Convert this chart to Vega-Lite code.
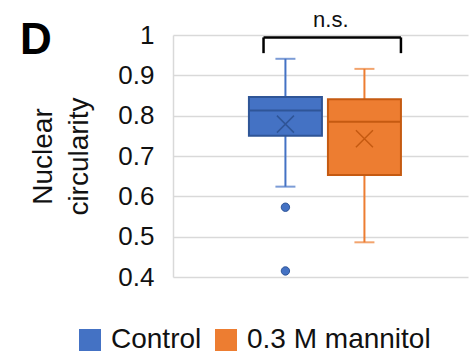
{
  "$schema": "https://vega.github.io/schema/vega-lite/v6.json",
  "width": 295,
  "height": 242,
  "autosize": "none",
  "padding": {"left": 173, "top": 35, "right": 1, "bottom": 79},
  "background": "white",
  "title": {"text": "D", "anchor": "start", "frame": "group", "orient": "top", "fontSize": 44, "fontWeight": "bold", "font": "Liberation Sans", "color": "black", "baseline": "top", "offset": 0, "dx": -153, "dy": 54},
  "datasets": {
    "stats": [
      {"group": "Control", "min": 0.624, "q1": 0.750, "median": 0.813, "q3": 0.846, "max": 0.941, "mean": 0.779},
      {"group": "0.3 M mannitol", "min": 0.486, "q1": 0.653, "median": 0.785, "q3": 0.841, "max": 0.916, "mean": 0.743}
    ],
    "outliers": [
      {"group": "Control", "value": 0.573},
      {"group": "Control", "value": 0.415}
    ],
    "bracket": [
      {"from": "Control", "to": "0.3 M mannitol", "top": 0.994, "bottom": 0.955, "labelY": 1.02, "label": "n.s."}
    ]
  },
  "config": {
    "view": {"stroke": null},
    "font": "Liberation Sans"
  },
  "encoding": {
    "x": {"field": "group", "type": "nominal", "axis": null,
      "scale": {"type": "band", "domain": ["Control", "0.3 M mannitol"], "paddingInner": 0.076, "paddingOuter": 0.905, "align": 0.531}}
  },
  "layer": [
    {
      "data": {"name": "stats"},
      "mark": {"type": "rule", "strokeWidth": 2},
      "encoding": {
        "y": {"field": "min", "type": "quantitative",
          "scale": {"domain": [0.4, 1], "nice": false, "zero": false},
          "axis": {"values": [0.4, 0.5, 0.6, 0.7, 0.8, 0.9, 1], "format": "~g", "ticks": false,
            "grid": true, "gridColor": "#D9D9D9", "gridWidth": 1.5,
            "domainColor": "#D9D9D9", "domainWidth": 1.5,
            "labelFontSize": 26, "labelFont": "Liberation Sans", "labelColor": "#111111", "labelPadding": 19, "labelDy": 3,
            "title": ["Nuclear", "circularity"], "titleFontSize": 28, "titleFont": "Liberation Sans", "titleFontWeight": "normal",
            "titleColor": "#111111", "titleLineHeight": 36, "titlePadding": 24}},
        "y2": {"field": "max"},
        "color": {"field": "group", "type": "nominal",
          "scale": {"domain": ["Control", "0.3 M mannitol"], "range": ["#4472C4", "#ED7D31"]},
          "legend": {"orient": "none", "legendX": -97, "legendY": 291, "direction": "horizontal",
            "symbolType": "square", "symbolSize": 400, "symbolStrokeWidth": 2, "symbolOpacity": 1,
            "labelFontSize": 28, "labelFont": "Liberation Sans", "labelColor": "#111111",
            "labelOffset": 7, "columnPadding": 10, "title": null, "labelLimit": 400,
            "encode": {"symbols": {"update": {
              "fill": {"signal": "datum.value === 'Control' ? '#4472C4' : '#ED7D31'"},
              "stroke": {"signal": "datum.value === 'Control' ? '#2F5597' : '#C55A11'"},
              "strokeWidth": {"value": 2}, "opacity": {"value": 1}}}}}}
      }
    },
    {
      "data": {"name": "stats"},
      "mark": {"type": "tick", "size": 20, "thickness": 2},
      "encoding": {
        "y": {"field": "min", "type": "quantitative"},
        "color": {"field": "group", "type": "nominal"}
      }
    },
    {
      "data": {"name": "stats"},
      "mark": {"type": "tick", "size": 20, "thickness": 2},
      "encoding": {
        "y": {"field": "max", "type": "quantitative"},
        "color": {"field": "group", "type": "nominal"}
      }
    },
    {
      "data": {"name": "stats"},
      "mark": {"type": "bar", "strokeWidth": 2},
      "encoding": {
        "y": {"field": "q1", "type": "quantitative"},
        "y2": {"field": "q3"},
        "color": {"field": "group", "type": "nominal"},
        "stroke": {"field": "group", "type": "nominal", "legend": null,
          "scale": {"domain": ["Control", "0.3 M mannitol"], "range": ["#2F5597", "#C55A11"]}}
      }
    },
    {
      "data": {"name": "stats"},
      "mark": {"type": "rule", "strokeWidth": 2},
      "encoding": {
        "x": {"field": "group", "type": "nominal", "bandPosition": 0, "axis": null},
        "x2": {"field": "group", "bandPosition": 1},
        "y": {"field": "median", "type": "quantitative"},
        "stroke": {"field": "group", "type": "nominal", "legend": null}
      }
    },
    {
      "data": {"name": "stats"},
      "mark": {"type": "point", "shape": "M-1,-1L1,1M-1,1L1,-1", "filled": false, "size": 289, "strokeWidth": 1.5, "opacity": 1},
      "encoding": {
        "y": {"field": "mean", "type": "quantitative"},
        "stroke": {"field": "group", "type": "nominal", "legend": null}
      }
    },
    {
      "data": {"name": "outliers"},
      "mark": {"type": "point", "shape": "circle", "filled": true, "size": 70, "strokeWidth": 1, "opacity": 1},
      "encoding": {
        "y": {"field": "value", "type": "quantitative"},
        "color": {"field": "group", "type": "nominal"},
        "stroke": {"field": "group", "type": "nominal", "legend": null}
      }
    },
    {
      "data": {"name": "bracket"},
      "mark": {"type": "rule", "strokeWidth": 2.5, "color": "black"},
      "encoding": {
        "x": {"field": "from", "type": "nominal", "bandPosition": 0.2, "axis": null},
        "x2": {"field": "to", "bandPosition": 1},
        "y": {"field": "top", "type": "quantitative"}
      }
    },
    {
      "data": {"name": "bracket"},
      "mark": {"type": "rule", "strokeWidth": 2.5, "color": "black"},
      "encoding": {
        "x": {"field": "from", "type": "nominal", "bandPosition": 0.2, "axis": null},
        "y": {"field": "bottom", "type": "quantitative"},
        "y2": {"field": "top"}
      }
    },
    {
      "data": {"name": "bracket"},
      "mark": {"type": "rule", "strokeWidth": 2.5, "color": "black"},
      "encoding": {
        "x": {"field": "to", "type": "nominal", "bandPosition": 1, "axis": null},
        "y": {"field": "bottom", "type": "quantitative"},
        "y2": {"field": "top"}
      }
    },
    {
      "data": {"name": "bracket"},
      "mark": {"type": "text", "fontSize": 22, "font": "Liberation Sans", "color": "#111111", "baseline": "alphabetic", "align": "center"},
      "encoding": {
        "x": {"field": "to", "type": "nominal", "bandPosition": 0.04, "axis": null},
        "y": {"field": "labelY", "type": "quantitative"},
        "text": {"field": "label"}
      }
    }
  ]
}
